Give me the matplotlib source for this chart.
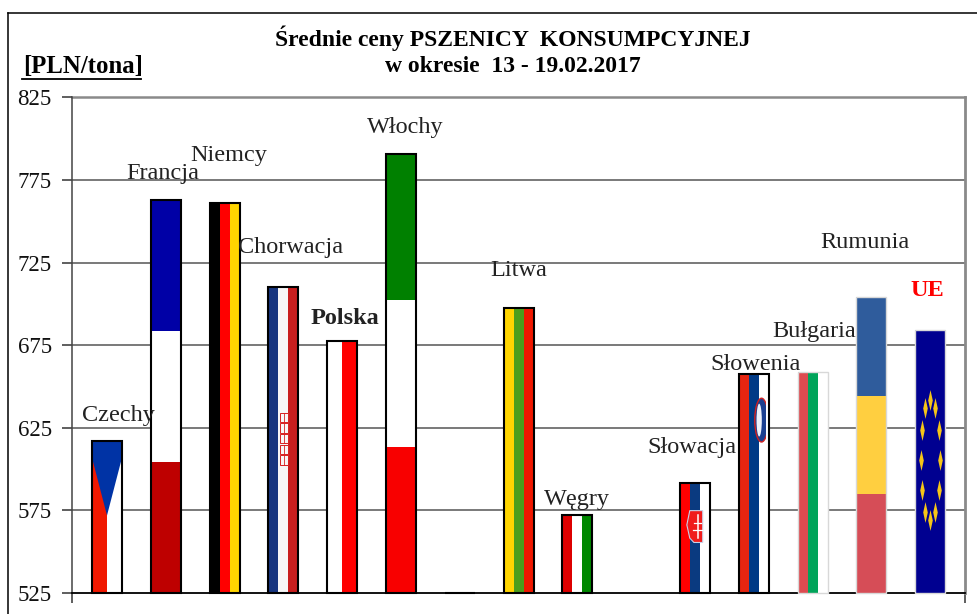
import numpy as np
import matplotlib
matplotlib.use("Agg")
import matplotlib.pyplot as plt
from matplotlib.lines import Line2D
from matplotlib.path import Path
from matplotlib.patches import Polygon, Rectangle, Ellipse

plt.rcParams["font.family"] = ["Liberation Serif", "DejaVu Serif"]

# dane
countries = ["Czechy", "Francja", "Niemcy", "Chorwacja", "Polska", "Włochy", "", "Litwa",
             "Węgry", "", "Słowacja", "Słowenia", "Bułgaria", "Rumunia", "UE"]
prices = [617, 763, 761, 710, 677.5, 791, 525.2, 697.5, 572, None, 591.5, 657.5, 659, 704, 684]
y_ticks = [525, 575, 625, 675, 725, 775, 825]

vertical_flags = {
    "Niemcy": ["#000000", "#FF0000", "#FFD500"],
    "Chorwacja": ["#17357F", "#F7F7F7", "#C81E1E"],
    "Polska": ["#FFFFFF", "#FF0000"],
    "Litwa": ["#FFD500", "#4C9E1C", "#F01800"],
    "Węgry": ["#DD0000", "#FFFFFF", "#008800"],
    "Słowacja": ["#FF0000", "#0A3A80", "#FFFFFF"],
    "Słowenia": ["#E62510", "#003A86", "#FFFFFF"],
    "Bułgaria": ["#DD4B50", "#00A45A", "#FFFFFF"],
    "UE": ["#000090"],
}
horizontal_flags = {
    "Francja": ["#BE0000", "#FFFFFF", "#0000A6"],
    "Włochy": ["#F80000", "#FFFFFF", "#008000"],
    "Rumunia": ["#D64D57", "#FFCF40", "#2F5C9C"],
}
pale_edge = ["Bułgaria", "Rumunia", "UE"]

# polozenie podpisow w pikselach obrazka
label_px = {
    "Czechy": (118, 416), "Francja": (163, 173), "Niemcy": (229, 155), "Chorwacja": (291, 248),
    "Polska": (345, 318), "Włochy": (405, 128), "Litwa": (519, 270), "Węgry": (577, 499),
    "Słowacja": (692, 448), "Słowenia": (756, 364), "Bułgaria": (814, 332),
    "Rumunia": (865, 243), "UE": (927, 290),
}

W, H = 977, 614
BAR_W = 0.51
BASE = 525


def fx(px):
    return px / W


def fy(py):
    return 1 - py / H


fig = plt.figure(figsize=(W / 100, H / 100), dpi=100)
ax = fig.add_axes([fx(72), fy(593), fx(965 - 72), fy(97.5) - fy(593)])
ax.set_xlim(-0.595, 14.59)
ax.set_ylim(BASE, 825)

for t in y_ticks[1:-1]:
    ax.axhline(t, color="#555555", lw=1.1, zorder=1)
ax.axhline(825, color="#8A8A8A", lw=1.8, zorder=1, clip_on=False)

for i, (name, val) in enumerate(zip(countries, prices)):
    if val is None:
        continue
    h = val - BASE
    left = i - BAR_W / 2
    if name in vertical_flags:
        cols = vertical_flags[name]
        w = BAR_W / len(cols)
        for k, c in enumerate(cols):
            ax.bar(left + w * k, h, width=w, bottom=BASE, align="edge", color=c, lw=0, zorder=3)
    elif name in horizontal_flags:
        cols = horizontal_flags[name]
        for k, c in enumerate(cols):
            ax.bar(i, h / 3, width=BAR_W, bottom=BASE + h * k / 3, color=c, lw=0, zorder=3)
    elif name == "Czechy":
        ax.bar(left, h, width=BAR_W / 2, bottom=BASE, align="edge", color="#F01800", lw=0, zorder=3)
        ax.bar(i, h, width=BAR_W / 2, bottom=BASE, align="edge", color="#FFFFFF", lw=0, zorder=3)
        ax.add_patch(Polygon([(left, val), (left + BAR_W, val), (left + BAR_W, BASE + 0.89 * h),
                              (i, BASE + 0.51 * h), (left, BASE + 0.89 * h)],
                             closed=True, fc="#0033A5", lw=0, zorder=4))
    edge = "#D8D8D8" if name in pale_edge else "#000000"
    lw = 1.0 if name in pale_edge else 1.5
    ax.bar(i, h, width=BAR_W, bottom=BASE, fill=False, edgecolor=edge, lw=lw, zorder=6, clip_on=False)

# godla na flagach
i = countries.index("Chorwacja")
h = prices[i] - BASE
for r in np.linspace(0.42, 0.56, 5):
    ax.add_patch(Rectangle((i - 0.05, BASE + r * h), 0.12, 0.03 * h, fc="#F7F7F7", ec="#D82020", lw=0.7, zorder=5))
    ax.plot([i + 0.01, i + 0.01], [BASE + r * h, BASE + (r + 0.03) * h], color="#D82020", lw=0.6, zorder=5)

i = countries.index("Słowacja")
h = prices[i] - BASE
ax.add_patch(Polygon([(i + 0.13, BASE + 0.75 * h), (i - 0.09, BASE + 0.75 * h), (i - 0.14, BASE + 0.62 * h),
                      (i - 0.09, BASE + 0.50 * h), (i - 0.02, BASE + 0.46 * h), (i + 0.13, BASE + 0.46 * h)],
                     closed=True, fc="#F01C1C", ec="#C8D0E8", lw=0.8, zorder=5))
ax.plot([i + 0.045, i + 0.045], [BASE + 0.50 * h, BASE + 0.71 * h], color="white", lw=1.1, zorder=6)
for r, half in [(0.57, 0.08), (0.64, 0.06)]:
    ax.plot([i + 0.045 - half, i + 0.045 + half], [BASE + r * h, BASE + r * h], color="white", lw=0.9, zorder=6)

i = countries.index("Słowenia")
h = prices[i] - BASE
ax.add_patch(Ellipse((i + 0.13, BASE + 0.79 * h), 0.23, 0.20 * h, fc="#1A3F90", ec="#D02020", lw=1.0, zorder=5))
ax.add_patch(Ellipse((i + 0.09, BASE + 0.79 * h), 0.09, 0.15 * h, fc="#EEF2FA", lw=0, zorder=5))
ax.add_patch(Rectangle((i + 0.2, BASE + 0.66 * h), 0.055, 0.26 * h, fc="#FFFFFF", lw=0, zorder=5))

i = countries.index("UE")
star = Path([(0, 1), (0.22, 0), (0, -1), (-0.22, 0), (0, 1)], closed=True)
angles = np.arange(12) * np.pi / 6
ax.plot(i + 0.165 * np.sin(angles), 605.5 + 36.3 * np.cos(angles),
        ls="none", marker=star, ms=15, color="#F5C518", mew=0, zorder=7)

ax.set_yticks(y_ticks)
ax.set_yticklabels([str(t) for t in y_ticks], fontsize=16.5, color="#111111")
ax.tick_params(axis="y", length=7, width=1.1, color="#333333", pad=7.5)
ax.set_xticks([-0.595, 14.59])
ax.set_xticklabels([])
ax.tick_params(axis="x", length=7, width=1.1, color="#333333")

ax.spines["top"].set_visible(False)
ax.spines["left"].set_color("#444444")
ax.spines["left"].set_linewidth(1.1)
ax.spines["right"].set_color("#8A8A8A")
ax.spines["right"].set_linewidth(2)
ax.spines["bottom"].set_color("#000000")
ax.spines["bottom"].set_linewidth(1.3)

for name, (px, py) in label_px.items():
    bold = name in ("Polska", "UE")
    fig.text(fx(px), fy(py), name, ha="center", va="center", fontsize=17.5,
             fontweight="bold" if bold else "normal",
             color="#FF0000" if name == "UE" else "#222222")

fig.text(fx(513), fy(38), "Średnie ceny PSZENICY  KONSUMPCYJNEJ", ha="center", va="center",
         fontsize=17, fontweight="bold")
fig.text(fx(513), fy(67), "w okresie  13 - 19.02.2017", ha="center", va="center",
         fontsize=17, fontweight="bold")
fig.text(fx(23), fy(67), "[PLN/tona]", ha="left", va="center", fontsize=17.8, fontweight="bold")
fig.add_artist(Line2D([fx(22), fx(141)], [fy(79), fy(79)], color="black", lw=1.3))

# ramka obrazka - tylko gora i lewa strona
fig.add_artist(Line2D([fx(8), 1], [fy(12.5), fy(12.5)], color="black", lw=1.1))
fig.add_artist(Line2D([fx(8), fx(8)], [fy(12.5), 0], color="black", lw=1.1))

fig.savefig("out.png", dpi=100)
plt.close(fig)
